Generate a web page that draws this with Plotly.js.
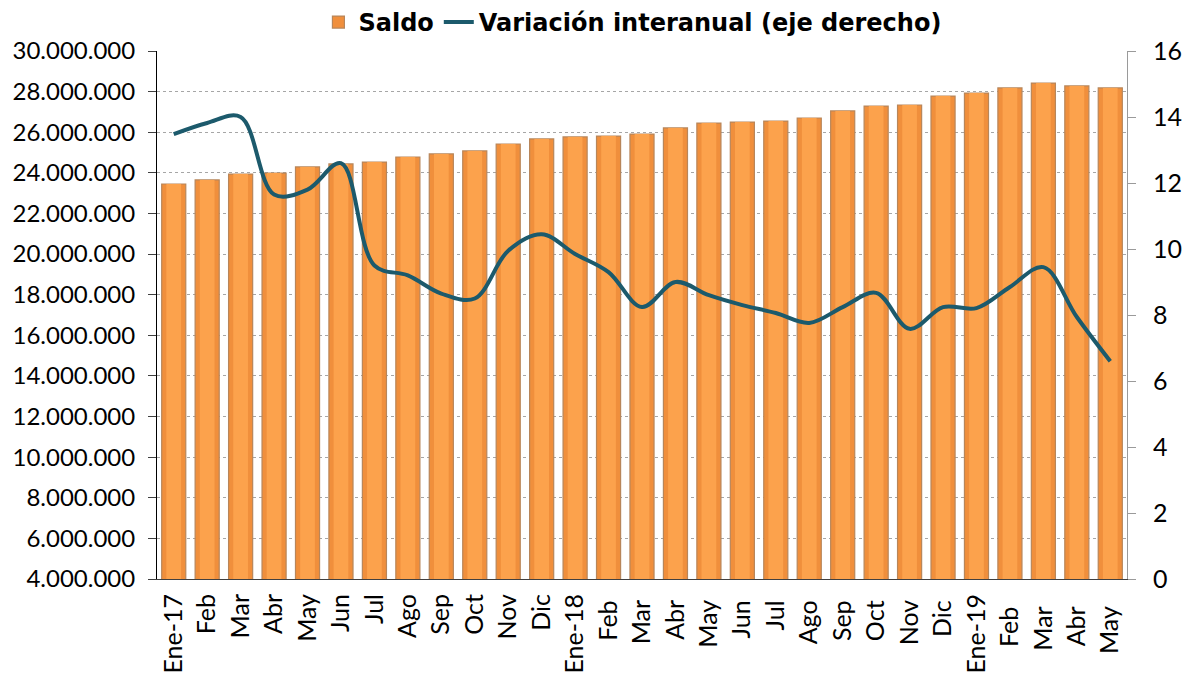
<!DOCTYPE html>
<html>
<head>
<meta charset="utf-8">
<script src="https://cdn.plot.ly/plotly-3.0.1.min.js"></script>
<style>
  html, body { margin: 0; padding: 0; background: #ffffff; }
  #chart { width: 1191px; height: 674px; }
</style>
</head>
<body>
<div id="chart"></div>
<script>
// Category labels (months Jan-2017 .. May-2019)
const categories = [
  "Ene-17","Feb","Mar","Abr","May","Jun","Jul","Ago","Sep","Oct","Nov","Dic",
  "Ene-18","Feb ","Mar ","Abr ","May ","Jun ","Jul ","Ago ","Sep ","Oct ","Nov ","Dic ",
  "Ene-19","Feb  ","Mar  ","Abr  ","May  "
];

// Saldo (left axis)
const saldo = [
  23450000, 23650000, 23940000, 23990000, 24290000, 24440000, 24530000, 24780000, 24930000, 25080000, 25420000, 25670000,
  25770000, 25810000, 25910000, 26210000, 26450000, 26500000, 26550000, 26700000, 27050000, 27290000, 27340000, 27780000,
  27930000, 28180000, 28420000, 28280000, 28180000
];

// Variación interanual (right axis, %)
const variacion = [
  13.48, 13.82, 14.0, 11.65, 11.8, 12.6, 9.5, 9.2, 8.65, 8.5, 9.95, 10.45,
  9.85, 9.3, 8.24, 9.0, 8.6, 8.3, 8.06, 7.76, 8.24, 8.67, 7.58, 8.24,
  8.21, 8.85, 9.45, 7.94, 6.6
];

const leftTicks = [4000000, 6000000, 8000000, 10000000, 12000000, 14000000, 16000000, 18000000, 20000000, 22000000, 24000000, 26000000, 28000000, 30000000];
const rightTicks = [0, 2, 4, 6, 8, 10, 12, 14, 16];

const FONT = "Lato, 'Open Sans', sans-serif";
const LEGEND_FONT = "'DejaVu Sans', Lato, sans-serif";

const traces = [
  {
    type: "bar",
    name: "Saldo",
    x: categories,
    y: saldo,
    width: 0.72,
    marker: { color: "#F08F3C", line: { color: "#B8865A", width: 1.2 } },
    hoverinfo: "skip"
  },
  {
    type: "bar",
    name: "Saldo highlight",
    showlegend: false,
    x: categories,
    y: saldo,
    width: 0.44,
    marker: { color: "#FCA24C", line: { width: 0 } },
    hoverinfo: "skip"
  },
  {
    type: "scatter",
    mode: "lines",
    name: "Variación interanual (eje derecho)",
    x: categories,
    y: variacion,
    yaxis: "y2",
    line: { color: "#1C5A6C", width: 4, shape: "spline", smoothing: 1 },
    hoverinfo: "skip"
  }
];

const layout = {
  width: 1191,
  height: 674,
  paper_bgcolor: "#ffffff",
  plot_bgcolor: "#ffffff",
  separators: ",.",
  barmode: "overlay",
  margin: { l: 157, r: 64, t: 51, b: 95, autoexpand: false },
  font: { family: FONT, size: 24, color: "#000000" },
  showlegend: true,
  legend: {
    orientation: "h",
    x: 0.531,
    xanchor: "center",
    xref: "container",
    y: 1.0,
    yanchor: "top",
    yref: "container",
    font: { family: LEGEND_FONT, size: 24, color: "#000000", weight: "bold" },
    itemwidth: 30,
    traceorder: "normal",
    bgcolor: "rgba(0,0,0,0)"
  },
  xaxis: {
    type: "category",
    tickangle: -90,
    tickfont: { family: FONT, size: 25, color: "#000000" },
    ticklabelstandoff: 4,
    showgrid: false,
    showline: true,
    linecolor: "#404040",
    linewidth: 1,
    ticks: "",
    zeroline: false,
    automargin: false
  },
  yaxis: {
    range: [4000000, 30000000],
    tickvals: leftTicks,
    tickformat: ",d",
    tickfont: { family: FONT, size: 24, color: "#000000" },
    ticklabelstandoff: 8,
    showgrid: true,
    gridcolor: "#A6A6A6",
    griddash: "dot",
    gridwidth: 1,
    showline: true,
    linecolor: "#000000",
    linewidth: 1,
    ticks: "outside",
    ticklen: 8,
    tickcolor: "#404040",
    zeroline: false,
    automargin: false
  },
  yaxis2: {
    range: [0, 16],
    tickvals: rightTicks,
    overlaying: "y",
    side: "right",
    tickfont: { family: FONT, size: 25, color: "#000000" },
    ticklabelstandoff: 12,
    showgrid: false,
    showline: true,
    linecolor: "#9A9A9A",
    linewidth: 1,
    ticks: "outside",
    ticklen: 8,
    tickcolor: "#9A9A9A",
    zeroline: false,
    automargin: false
  }
};

Plotly.newPlot("chart", traces, layout, { staticPlot: true, displayModeBar: false });
</script>
</body>
</html>
